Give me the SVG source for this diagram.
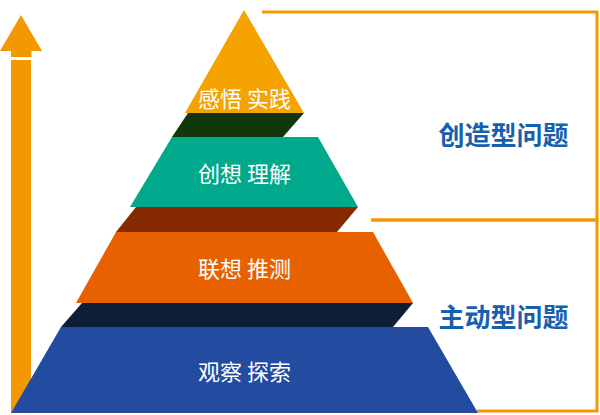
<svg xmlns="http://www.w3.org/2000/svg" width="600" height="415" viewBox="0 0 600 415">
<style>
.lbl{font-family:"Noto Sans CJK SC","Noto Sans",sans-serif;font-size:22px;fill:#ffffff;text-anchor:middle;dominant-baseline:central}
.side{font-family:"Noto Sans CJK SC","Noto Sans",sans-serif;font-size:26px;font-weight:bold;fill:#1660ae;text-anchor:middle;dominant-baseline:central}
.frame{fill:none;stroke:#f39800;stroke-width:3}
.arrow{fill:#f39800}
</style>
<rect width="600" height="415" fill="#ffffff"/>
<g id="connectors">
  <polyline class="frame" points="262,12 597,12 597,220 371,220"/>
  <polyline class="frame" points="371,220 597,220 597,411 477,411"/>
</g>
<g id="arrow">
  <polygon class="arrow" points="21,15 42,51 0,51"/>
  <rect class="arrow" x="11" y="51" width="20.5" height="6"/>
  <rect class="arrow" x="11" y="60" width="20" height="353"/>
</g>
<g id="band-shadows">
  <polygon fill="#10380c" points="188,113 304,113 283,137 172,137"/>
  <polygon fill="#852a00" points="136,207 358,207 337,232 116,232"/>
  <polygon fill="#0c1f36" points="82,303 413,303 393,327 61,327"/>
</g>
<g id="level4">
  <polygon fill="#f5a300" points="244,10 304,113 185,113"/>
  <text class="lbl" x="244.5" y="97">感悟 实践</text>
</g>
<g id="level3">
  <polygon fill="#00a98b" points="172,137 318,137 358,207 130,207"/>
  <text class="lbl" x="244.5" y="172">创想 理解</text>
</g>
<g id="level2">
  <polygon fill="#e86100" points="116,232 373,232 413,303 76,303"/>
  <text class="lbl" x="244.5" y="267">联想 推测</text>
</g>
<g id="level1">
  <polygon fill="#234ba0" points="61,327 428,327 478,413 11,413"/>
  <text class="lbl" x="244.5" y="370">观察 探索</text>
</g>
<g id="label-creative">
  <text class="side" x="503.5" y="133">创造型问题</text>
</g>
<g id="label-active">
  <text class="side" x="503.5" y="315">主动型问题</text>
</g>
</svg>
